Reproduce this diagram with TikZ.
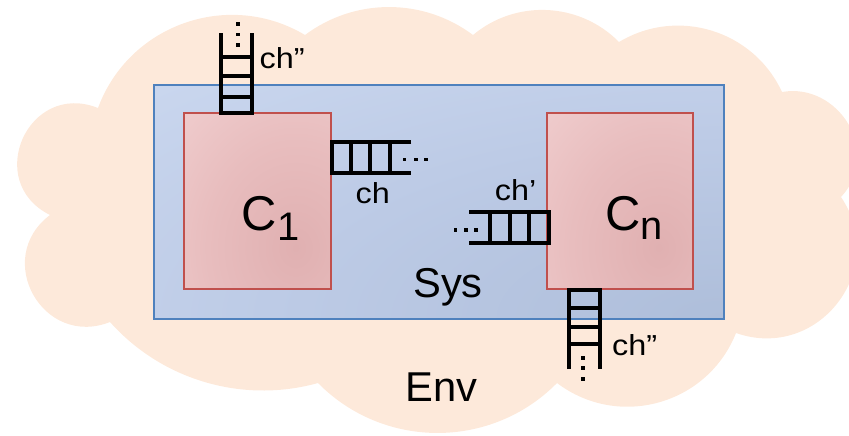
\documentclass[tikz,border=0pt]{standalone}
\usepackage{fontspec}
\usepackage{graphicx}
\setmainfont{Liberation Sans}
\definecolor{cloudc}{HTML}{FDE9DA}
\definecolor{sysA}{HTML}{AEBEDA}
\definecolor{sysC}{HTML}{BDCBE6}
\definecolor{sysD}{HTML}{C9D6EE}
\definecolor{sysE}{HTML}{D6DFF2}
\definecolor{sysF}{HTML}{DCE4F5}
\definecolor{sysB}{HTML}{4F81BD}
\definecolor{compA}{HTML}{E0B0B1}
\definecolor{compC}{HTML}{E8BDBE}
\definecolor{compD}{HTML}{EFCBCC}
\definecolor{compE}{HTML}{F3D8D9}
\definecolor{compF}{HTML}{F6DFE0}
\definecolor{compB}{HTML}{C0504D}
\pgfdeclareradialshading{syssh}{\pgfpoint{0bp}{0bp}}{color(0bp)=(sysA); color(20bp)=(sysC); color(35bp)=(sysD); color(50bp)=(sysE); color(72bp)=(sysF)}
\pgfdeclareradialshading{compsh}{\pgfpoint{0bp}{0bp}}{color(0bp)=(compA); color(15bp)=(compC); color(27bp)=(compD); color(42bp)=(compE); color(58bp)=(compF)}
\begin{document}
\begin{tikzpicture}[x=0.03cm,y=-0.03cm,
  queue/.style={line width=2.7pt, draw=black, line join=miter},
  sysline/.style={draw=sysB, line width=1.3pt},
  compline/.style={draw=compB, line width=1.3pt},
  big/.style={anchor=base west, inner sep=0pt, font=\fontsize{41.7}{42}\selectfont},
  mid/.style={anchor=base west, inner sep=0pt, font=\fontsize{35.6}{36}\selectfont},
  small/.style={anchor=base west, inner sep=0pt, font=\fontsize{24.7}{25}\selectfont},
  qdot/.style={fill=black}
]
\useasboundingbox (0,0) rectangle (849,435);
% cloud (environment)
\begin{scope}
\clip (0,0) rectangle (849,435);
\fill[cloudc] (98,108) .. controls (128.9,24.4) and (228.5,-10.6) .. (305,35)
  .. controls (354.8,-2.3) and (423.2,-2.3) .. (473,35)
  .. controls (516.0,-1.0) and (579.6,2.1) .. (619,42)
  .. controls (677.4,6.9) and (753.3,30.1) .. (782,92)
  .. controls (838,82) and (883.0,151.9) .. (841,197)
  .. controls (889.7,269.3) and (818.3,361.7) .. (736,333)
  .. controls (707.4,404.7) and (618.6,429.6) .. (557,383)
  .. controls (491.3,449.6) and (383.7,449.6) .. (318,383)
  .. controls (242.9,403.9) and (162,380.3) .. (110,322)
  .. controls (42.9,348.5) and (-7.6,258.4) .. (50,215)
  .. controls (-17.1,181.5) and (28.4,80.2) .. (98,108) -- cycle;
\end{scope}
% system box
\begin{scope}
\clip (154,85) rectangle (724,319);
\shade[shading=syssh] (154,85) rectangle (1294,553);
\end{scope}
\draw[sysline] (154,85) rectangle (724,319);
% component C1
\begin{scope}
\clip (184,113) rectangle (331,289);
\shade[shading=compsh] (148.6,71.8) rectangle (442.6,423.8);
\end{scope}
\draw[compline] (184,113) rectangle (331,289);
% component Cn
\begin{scope}
\clip (547,113) rectangle (693,289);
\shade[shading=compsh] (512.8,71.8) rectangle (804.8,423.8);
\end{scope}
\draw[compline] (547,113) rectangle (693,289);
% top queue ch''
\draw[queue] (221,33) -- (221,113) -- (252,113) -- (252,33);
\draw[queue] (221,57) -- (252,57) (221,76) -- (252,76) (221,97) -- (252,97);
% queue ch
\draw[queue] (411,142) -- (332,142) -- (332,173) -- (411,173);
\draw[queue] (351,142) -- (351,173) (370,142) -- (370,173) (390,142) -- (390,173);
% queue ch'
\draw[queue] (469,212) -- (549,212) -- (549,243) -- (469,243);
\draw[queue] (490,212) -- (490,243) (510,212) -- (510,243) (529,212) -- (529,243);
% bottom queue ch''
\draw[queue] (569,369) -- (569,290) -- (600,290) -- (600,369);
\draw[queue] (569,308) -- (600,308) (569,327) -- (600,327) (569,344) -- (600,344);
% dots
\foreach \p in {(238,24),(238,34.5),(238,44.7),(583,358),(583,368),(583,379),
  (404.5,159.5),(416,159.5),(426,159.5),(455.5,230),(466,230),(476,230)}
  \fill[qdot] \p ++(-1.8,-1.8) rectangle ++(3.6,3.6);
% texts
\node[big] (c1) at (241.5,230.5) {C\raisebox{-8.5pt}{\fontsize{34}{34}\selectfont 1}};
\node[big] (cn) at (604.8,230) {C\raisebox{-8.5pt}{\fontsize{34}{34}\selectfont n}};
\node[mid] (sys) at (413,297.5) {Sys};
\node[mid] (env) at (405,401.7) {Env};
\node[small] (chtop) at (259.4,68.3) {\scalebox{1.12}[1]{ch”}};
\node[small] (ch) at (355.4,203.3) {\scalebox{1.12}[1]{ch}};
\node[small] (chp) at (494.7,200.7) {\scalebox{1.12}[1]{ch’}};
\node[small] (chbot) at (612,355) {\scalebox{1.12}[1]{ch”}};
\end{tikzpicture}
\end{document}
